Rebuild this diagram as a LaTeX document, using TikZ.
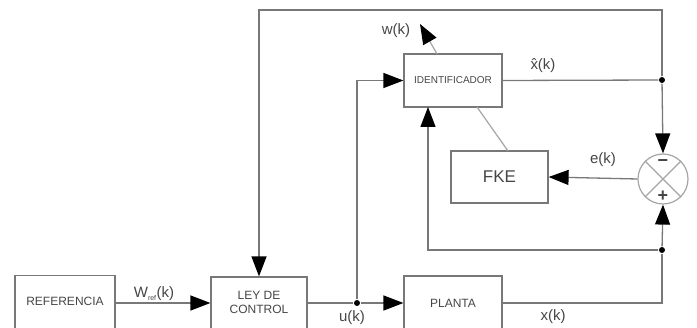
\documentclass[tikz,border=0pt]{standalone}
\usepackage{fontspec}
\setmainfont{Liberation Sans}
\usetikzlibrary{arrows.meta,calc}
\definecolor{ln}{RGB}{120,120,120}
\definecolor{lt}{RGB}{165,165,165}
\definecolor{tx}{RGB}{70,70,70}
\begin{document}
\begin{tikzpicture}[x=1pt,y=-1pt,
  line width=1.3pt,
  blk/.style={draw=ln,line width=1.2pt,rectangle,inner sep=0pt,text=tx,align=center},
  conn/.style={draw=ln,line width=1.3pt},
  tip/.style={-{Triangle[length=20pt,width=15pt,color=black]}},
  arr/.style={conn,tip},
  dot/.style={circle,fill=black,inner sep=0pt,minimum size=6pt},
  lbl/.style={text=tx,font=\fontsize{15}{15}\selectfont,inner sep=0pt}]
\clip (0,0) rectangle (697,328);
\fill[white] (0,0) rectangle (697,328);
% blocks
\node[blk,minimum width=100pt,minimum height=55pt,font=\fontsize{12}{12}\selectfont] (ref) at (65,303) {\raisebox{3pt}{REFERENCIA}};
\node[blk,minimum width=96pt,minimum height=53pt,font=\fontsize{12}{15}\selectfont] (ley) at (259,303.5) {\raisebox{3pt}{\begin{tabular}{@{}c@{}}LEY DE\\[-1pt]CONTROL\end{tabular}}};
\node[blk,minimum width=98pt,minimum height=54pt,font=\fontsize{12}{12}\selectfont] (pla) at (453,303) {PLANTA};
\node[blk,minimum width=98pt,minimum height=53pt,font=\fontsize{10}{10}\selectfont] (ide) at (453,80.5) {IDENTIFICADOR};
\node[blk,minimum width=97pt,minimum height=52pt,font=\fontsize{17}{17}\selectfont] (fke) at (499.5,177) {FKE};
\node[draw=lt,line width=1.2pt,circle,minimum size=50pt,inner sep=0pt] (sum) at (663,179) {};
\draw[lt,line width=1.2pt] (sum.45) -- (sum.225) (sum.135) -- (sum.315);
\node[text=tx,font=\fontsize{18}{18}\selectfont\bfseries,inner sep=0pt] (minus) at (663,163) {\textminus};
\node[text=tx,font=\fontsize{18}{18}\selectfont\bfseries,inner sep=0pt] (plus) at (663,196) {+};
% junctions
\node[dot] (ju) at (357,303) {};
\node[dot] (jh) at (662,80) {};
\node[dot] (jx) at (662,250) {};
\coordinate (cpl) at (662,303);
\coordinate (ctop) at (662,10);
\coordinate (cleft) at (428,250);
\coordinate (idb) at (428,107);
\coordinate (fkt) at (508,151);
\coordinate (idr) at (477,107);
\coordinate (wst) at (437,54);
\coordinate (wtip) at (420,24);
% connectors
\draw[arr] (ref.east) -- (ley.west |- ref.east);
\draw[conn] (ley.east |- ju) -- (ju);
\draw[arr] (ju) -- (pla.west |- ju);
\draw[arr] (ju) |- (ide.west);
\draw[conn] (pla.east |- cpl) -- (cpl) -- (jx);
\draw[arr] (jx) -- (sum.south);
\draw[arr] (jx) -- (cleft) -- (idb);
\draw[conn] (ide.east) -- (jh);
\draw[arr] (jh) -- (sum.north);
\draw[arr] (jh) -- (ctop) -| (ley.north);
\draw[arr] (sum.west) -- (fke.east);
\draw[lt,line width=1.2pt] (fkt) -- (idr);
\draw[lt,line width=1.2pt,tip] (wst) -- (wtip);
% labels
\node[lbl] (lwref) at (154,294) {W\textsubscript{\fontsize{7}{7}\selectfont ref}(k)};
\node[lbl] (luk) at (352,318) {u(k)};
\node[lbl] (lxk) at (553,317) {x(k)};
\node[lbl] (lek) at (603,160) {e(k)};
\node[lbl] (lxh) at (543,66) {\^{x}(k)};
\node[lbl] (lwk) at (396,31) {w(k)};
\end{tikzpicture}
\end{document}
